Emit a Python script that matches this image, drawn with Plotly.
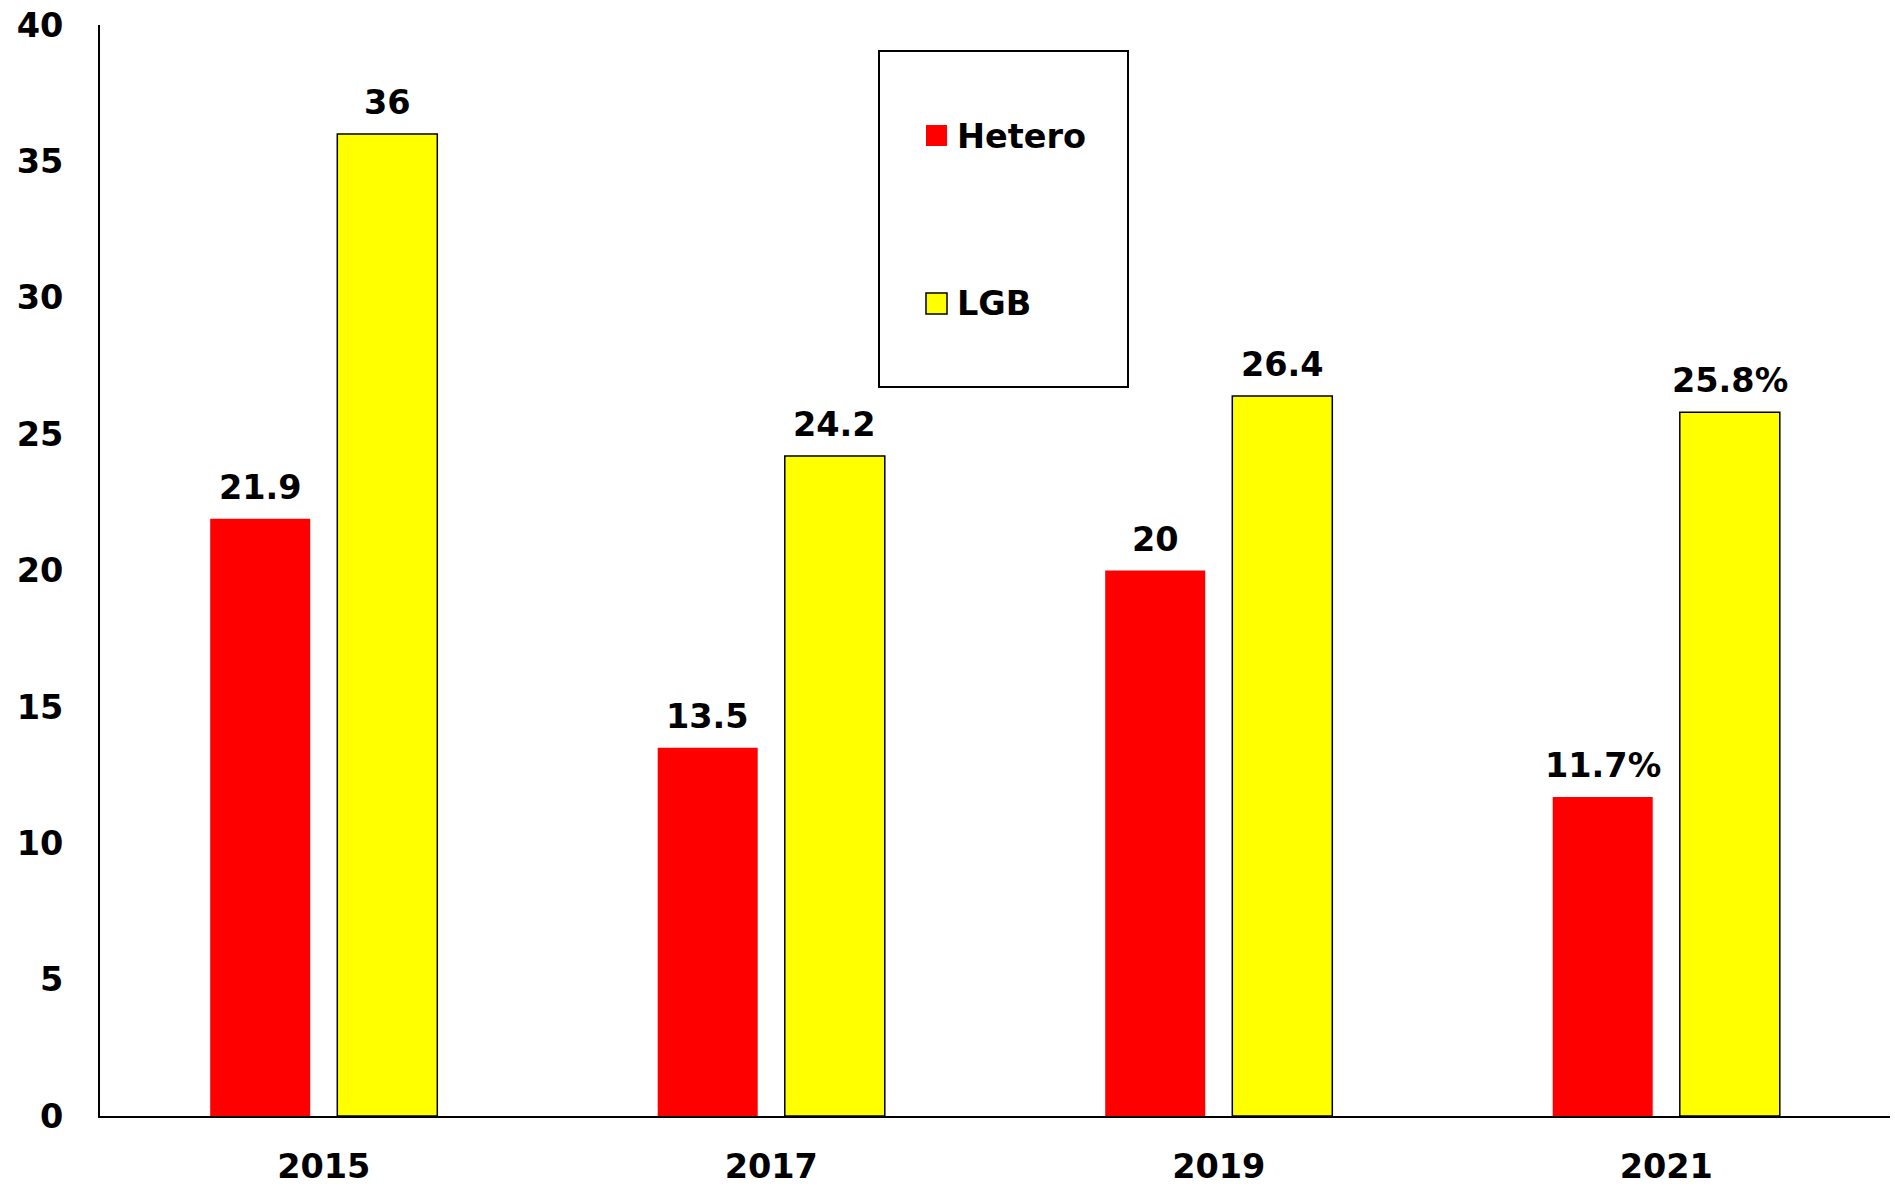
import plotly.graph_objects as go

years = ["2015", "2017", "2019", "2021"]
hetero = [21.9, 13.5, 20, 11.7]
lgb = [36, 24.2, 26.4, 25.8]
label_suffix = ["", "", "", "%"]
series_names = ["Hetero", "LGB"]
colors = ["#FF0000", "#FFFF00"]

FONT = "DejaVu Sans"
FS = 33.5
W, H = 1895, 1187
L, R, T, B = 100, 5, 25, 71
PW, PH = W - L - R, H - T - B
BARGAP, GROUPGAP = 0.432, 0.213


def f(size=FS):
    return dict(family=FONT, size=size, color="black", weight="bold")


def fmt(v, s):
    return f"{v:g}{s}"


fig = go.Figure()
series = [(series_names[0], hetero, colors[0], 0),
          (series_names[1], lgb, colors[1], 1.5)]
for name, vals, col, lw in series:
    fig.add_trace(go.Bar(
        x=years, y=vals, name=name,
        marker=dict(color=col, line=dict(color="black", width=lw)),
        showlegend=False,
    ))

# value labels above bars (offset to each bar's centre within its group);
# x is the category index on the category axis
cat_w = PW / len(years)
slot = cat_w * (1 - BARGAP) / len(series)
annotations = []
for i, (name, vals, col, lw) in enumerate(series):
    xshift = (i - (len(series) - 1) / 2) * slot
    for j, (v, s) in enumerate(zip(vals, label_suffix)):
        annotations.append(dict(
            x=j, y=v, xref="x", yref="y", text=fmt(v, s), showarrow=False,
            xanchor="center", yanchor="bottom", xshift=xshift, yshift=10,
            font=f()))


def px2x(p):
    return (p - L) / PW


def px2y(p):
    return (H - B - p) / PH


shapes = [
    dict(type="rect", xref="paper", yref="paper",
         x0=px2x(879), x1=px2x(1128), y0=px2y(387), y1=px2y(51),
         line=dict(color="black", width=2), fillcolor="white", layer="above"),
    dict(type="rect", xref="paper", yref="paper",
         x0=px2x(926), x1=px2x(947), y0=px2y(146), y1=px2y(125),
         line=dict(width=0), fillcolor=colors[0], layer="above"),
    dict(type="rect", xref="paper", yref="paper",
         x0=px2x(926), x1=px2x(947), y0=px2y(314), y1=px2y(293),
         line=dict(color="black", width=1.5), fillcolor=colors[1], layer="above"),
]
annotations += [
    dict(xref="paper", yref="paper", x=px2x(955), y=px2y(136), text=series_names[0],
         showarrow=False, xanchor="left", yanchor="middle", font=f()),
    dict(xref="paper", yref="paper", x=px2x(955), y=px2y(303), text=series_names[1],
         showarrow=False, xanchor="left", yanchor="middle", font=f()),
]

fig.update_layout(
    width=W, height=H,
    margin=dict(l=L, r=R, t=T, b=B, pad=0, autoexpand=False),
    plot_bgcolor="white", paper_bgcolor="white",
    barmode="group", bargap=BARGAP, bargroupgap=GROUPGAP,
    font=f(),
    shapes=shapes, annotations=annotations,
    xaxis=dict(type="category", range=[-0.5, len(years) - 0.5], showline=True,
               linecolor="black", linewidth=2, showgrid=False, ticks="",
               ticklabelstandoff=20, tickfont=f(), automargin=False),
    yaxis=dict(range=[0, 40], dtick=5, showline=True, linecolor="black", linewidth=2,
               showgrid=False, zeroline=False, ticks="", ticklabelstandoff=28,
               tickfont=f(), automargin=False),
)

fig.write_html("out.html", config={"displayModeBar": False},
               post_script="document.body.style.margin='0';document.body.style.overflow='hidden';")
